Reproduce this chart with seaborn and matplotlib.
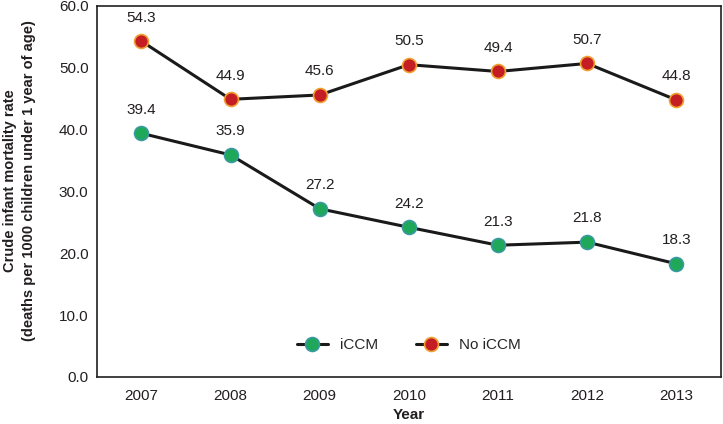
import pandas as pd
import seaborn as sns
import matplotlib.pyplot as plt

years = ['2007', '2008', '2009', '2010', '2011', '2012', '2013']
iccm = [39.4, 35.9, 27.2, 24.2, 21.3, 21.8, 18.3]
no_iccm = [54.3, 44.9, 45.6, 50.5, 49.4, 50.7, 44.8]
yticks = [0, 10, 20, 30, 40, 50, 60]

sns.set_style('white')
plt.rcParams['font.family'] = ['Liberation Sans Narrow', 'Liberation Sans', 'DejaVu Sans']

df = pd.DataFrame({'pos': list(range(len(years))) * 2,
                   'rate': iccm + no_iccm,
                   'group': ['iCCM'] * len(years) + ['No iCCM'] * len(years)})

fig = plt.figure(figsize=(7.23, 4.24), dpi=100)
ax = fig.add_axes([0.134, 0.111, 0.863, 0.875])

styles = {'iCCM': ('#1fa85a', '#3a9aa0'), 'No iCCM': ('#c41e24', '#f0a030')}
for name, (face, edge) in styles.items():
    sub = df[df['group'] == name]
    sns.lineplot(data=sub, x='pos', y='rate', ax=ax, color='#1a1a1a', lw=2.2,
                 marker='o', markersize=10, markerfacecolor=face,
                 markeredgecolor=edge, markeredgewidth=1.2, label=name)
    for x, y in zip(sub['pos'], sub['rate']):
        ax.annotate(f'{y:.1f}', (x, y), xytext=(0, 12), textcoords='offset points',
                    ha='center', va='bottom', fontsize=11, color='#231f20')

ax.set_xlim(-0.5, len(years) - 0.5)
ax.set_ylim(0, 60)
ax.set_xticks(range(len(years)))
ax.set_xticklabels(years)
ax.set_yticks(yticks)
ax.set_yticklabels([f'{v:.1f}' for v in yticks])
ax.tick_params(labelsize=11, colors='#231f20', length=0)
ax.tick_params(axis='x', pad=9)
ax.tick_params(axis='y', pad=6)
ax.set_xlabel('Year', fontsize=11, fontweight='bold', labelpad=3, color='#231f20')
ax.set_ylabel('Crude infant mortality rate\n(deaths per 1000 children under 1 year of age)',
              fontsize=10.5, fontweight='bold', linespacing=1.5, color='#231f20')
ax.yaxis.set_label_coords(-0.097, 0.53)
for s in ax.spines.values():
    s.set_color('#231f20')
    s.set_linewidth(1.2)

ax.legend(loc='lower center', bbox_to_anchor=(0.5, 0.03), ncol=2, frameon=False,
          fontsize=11, handlelength=2.0, columnspacing=2.5)

fig.savefig('out.png', dpi=100)
